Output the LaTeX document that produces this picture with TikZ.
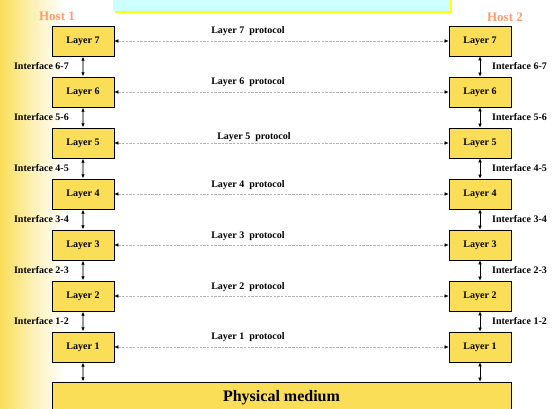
\documentclass[tikz,border=0pt]{standalone}
\usepackage{fontspec}
\setmainfont{Liberation Serif}
\usetikzlibrary{arrows.meta}
\definecolor{boxfill}{RGB}{250,222,88}
\definecolor{hostc}{RGB}{255,155,110}
\definecolor{titlebg}{RGB}{204,255,255}
\definecolor{titleshadow}{RGB}{255,255,0}
\definecolor{dashgray}{RGB}{180,180,180}
\begin{document}
\begin{tikzpicture}[x=1pt,y=-1pt,
  layerbox/.style={draw=black,line width=0.8pt,fill=boxfill,minimum width=62pt,
    minimum height=30pt,inner sep=0pt,font=\fontsize{10}{12}\selectfont\bfseries},
  lbl/.style={font=\fontsize{10}{12}\selectfont\bfseries,inner sep=0pt},
  hostlbl/.style={font=\fontsize{13}{15}\selectfont\bfseries,text=hostc,inner sep=0pt},
  ifleft/.style={{Latex[length=4pt,width=3.6pt,black]}-{Latex[length=4pt,width=3.6pt,black]},
    draw=gray!80,line width=1.4pt,shorten <=0.3pt,shorten >=0.3pt},
  ifright/.style={{Latex[length=4pt,width=3.6pt,black]}-{Latex[length=4pt,width=3.6pt,black]},
    draw=black,line width=0.6pt},
  proto/.style={{Latex[length=4pt,width=3.6pt,black]}-{Latex[length=4pt,width=3.6pt,black]},
    draw=dashgray,line width=0.5pt,dash pattern=on 2.5pt off 1.2pt}
]
\useasboundingbox (0,0) rectangle (552,409);

% faded band along the left margin
\shade[left color=boxfill,right color=white,middle color=boxfill!45] (0,0) rectangle (64,409);

% title banner with its shadow
\fill[titleshadow] (115,-6) rectangle (452,12.7);
\fill[titlebg] (113,-6) rectangle (450,11);

% host headings
\node[hostlbl] (h1) at (57,16) {Host 1};
\node[hostlbl] (h2) at (505,17) {Host 2};

% layer stacks
\foreach \i in {1,...,7} {
  \pgfmathsetmacro\yy{41+51*(7-\i)}
  \node[layerbox] (L\i) at (83,\yy) {Layer \i};
  \node[layerbox] (R\i) at (480,\yy) {Layer \i};
}

% physical medium
\node[layerbox,minimum width=459pt,minimum height=32pt,
  font=\fontsize{16}{18}\selectfont\bfseries] (PM) at (281.5,398) {Physical medium};

% interfaces between adjacent layers
\foreach \i/\j in {7/6,6/5,5/4,4/3,3/2,2/1} {
  \draw[ifleft] (L\i.south) -- (L\j.north);
  \draw[ifright] (R\i.south) -- (R\j.north);
  \pgfmathsetmacro\yy{66+51*(7-\i)}
  \node[lbl,anchor=east] at (69,\yy) {Interface \j-\i};
  \node[lbl,anchor=west] at (492,\yy) {Interface \j-\i};
}
\draw[ifleft] (L1.south) -- (L1.south |- PM.north);
\draw[ifright] (R1.south) -- (R1.south |- PM.north);

% peer protocols
\foreach \i in {1,...,7} {
  \draw[proto] (L\i.east) -- (R\i.west);
}
\foreach \i/\x/\dy in {7/248/10,6/248/10,5/254/6,4/248/9,3/248/9,2/248/9,1/248/10} {
  \pgfmathsetmacro\yy{41+51*(7-\i)-\dy}
  \node[lbl] at (\x,\yy) {Layer \i~~protocol};
}
\end{tikzpicture}
\end{document}
